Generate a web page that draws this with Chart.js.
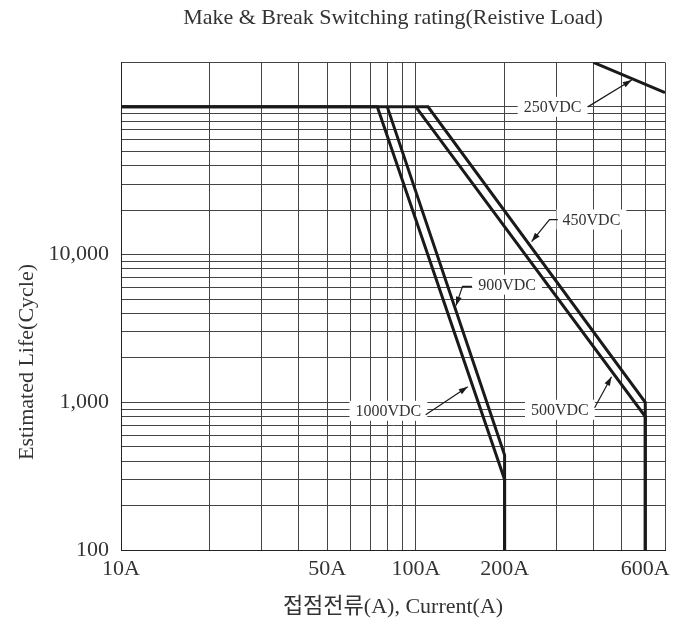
<!DOCTYPE html>
<html>
<head>
<meta charset="utf-8">
<script src="https://cdn.jsdelivr.net/npm/chart.js@4.4.1/dist/chart.umd.min.js"></script>
<style>
html,body{margin:0;padding:0;background:#fff;}
#wrap{width:675px;height:624px;}
</style>
</head>
<body>
<div id="wrap"><canvas id="c" width="675" height="624"></canvas></div>
<script>
// ---- data ----
const xGridValues = [10,20,30,40,50,60,70,80,90,100,200,300,400,500,600,700];
const xLabeledValues = [10,50,100,200,600];
const yGridValues = [100,200,300,400,500,600,700,800,900,
                     1000,2000,3000,4000,5000,6000,7000,8000,9000,
                     10000,20000,30000,40000,50000,60000,70000,80000,90000,
                     100000,200000];
const yLabeledValues = [100,1000,10000];

const seriesNames = ['1000VDC','900VDC','500VDC','450VDC','250VDC'];
const current1000 = [10, 74, 200, 200];
const life1000    = [100000, 100000, 300, 100];
const current900  = [80, 200, 200];
const life900     = [100000, 440, 100];
const current500  = [100, 600, 600];
const life500     = [100000, 800, 100];
const current450  = [10, 110, 600, 600];
const life450     = [100000, 100000, 1000, 100];
const current250  = [400, 700];
const life250     = [200000, 125000];

// callout labels: text, centre (current, life), leader path (current, life) ending in arrow
const calloutText   = ['250VDC','450VDC','900VDC','1000VDC','500VDC'];
const calloutCenter = [[291,100000],[394,17270],[204,6260],[80.7,875],[308,890]];
const calloutLeader = [
  [[383,100000],[540,152000]],
  [[303,17270],[284,17270],[247,12250]],
  [[155,6100],[144,6100],[136.8,4510]],
  [[108,823],[150,1274]],
  [[404,918],[461,1489]]
];

const titleText  = 'Make & Break Switching rating(Reistive Load)';
const xTitleText = '접점전류(A), Current(A)';
const yTitleText = 'Estimated Life(Cycle)';

// ---- styling ----
const FONT = "'Liberation Serif', 'Noto Sans CJK KR', serif";
const TEXT_COLOR = '#333';
const LINE_COLOR = '#1a1a1a';
const GRID_COLOR = '#444';
const LABEL_FONT = "16px " + FONT;

function pts(xs, ys){ return xs.map((x,i)=>({x:x, y:ys[i]})); }

const seriesData = [
  pts(current1000, life1000),
  pts(current900, life900),
  pts(current500, life500),
  pts(current450, life450),
  pts(current250, life250)
];

const calloutPlugin = {
  id: 'callouts',
  beforeDatasetsDraw(chart){
    const ctx = chart.ctx;
    const xs = chart.scales.x, ys = chart.scales.y;
    ctx.save();
    ctx.font = LABEL_FONT;
    calloutText.forEach((t,i)=>{
      const cx = xs.getPixelForValue(calloutCenter[i][0]);
      const cy = ys.getPixelForValue(calloutCenter[i][1]);
      const w = ctx.measureText(t).width;
      ctx.fillStyle = '#fff';
      ctx.fillRect(cx - w/2 - 6, cy - 10, w + 12, 20);
    });
    ctx.restore();
  },
  afterDatasetsDraw(chart){
    const ctx = chart.ctx;
    const xs = chart.scales.x, ys = chart.scales.y;
    ctx.save();
    ctx.font = LABEL_FONT;
    ctx.textAlign = 'center';
    ctx.textBaseline = 'middle';
    calloutText.forEach((t,i)=>{
      const cx = xs.getPixelForValue(calloutCenter[i][0]);
      const cy = ys.getPixelForValue(calloutCenter[i][1]);
      ctx.fillStyle = TEXT_COLOR;
      ctx.fillText(t, cx, cy + 1);
      // leader
      const p = calloutLeader[i].map(q=>[xs.getPixelForValue(q[0]), ys.getPixelForValue(q[1])]);
      ctx.strokeStyle = LINE_COLOR;
      ctx.lineWidth = 1.2;
      ctx.beginPath();
      ctx.moveTo(p[0][0], p[0][1]);
      for (let k=1;k<p.length;k++) ctx.lineTo(p[k][0], p[k][1]);
      ctx.stroke();
      // arrow head
      const a = p[p.length-2], b = p[p.length-1];
      const ang = Math.atan2(b[1]-a[1], b[0]-a[0]);
      const L = 9, W = 3;
      ctx.fillStyle = LINE_COLOR;
      ctx.beginPath();
      ctx.moveTo(b[0], b[1]);
      ctx.lineTo(b[0] - L*Math.cos(ang) + W*Math.sin(ang), b[1] - L*Math.sin(ang) - W*Math.cos(ang));
      ctx.lineTo(b[0] - L*Math.cos(ang) - W*Math.sin(ang), b[1] - L*Math.sin(ang) + W*Math.cos(ang));
      ctx.closePath();
      ctx.fill();
    });
    // y axis title (sits below axis centre in the original)
    ctx.save();
    ctx.translate(27, 362);
    ctx.rotate(-Math.PI/2);
    ctx.font = "22px " + FONT;
    ctx.fillStyle = TEXT_COLOR;
    ctx.textAlign = 'center';
    ctx.textBaseline = 'middle';
    ctx.fillText(yTitleText, 0, 0);
    ctx.restore();
    ctx.restore();
  }
};

new Chart(document.getElementById('c'), {
  type: 'line',
  data: {
    datasets: seriesData.map((d,i)=>({
      label: seriesNames[i],
      data: d,
      borderColor: LINE_COLOR,
      backgroundColor: LINE_COLOR,
      borderWidth: 3,
      pointRadius: 0,
      tension: 0,
      fill: false,
      borderJoinStyle: 'miter'
    }))
  },
  options: {
    responsive: false,
    animation: false,
    devicePixelRatio: 1,
    layout: { padding: { left: 0, right: 10, top: 0, bottom: 0 } },
    plugins: {
      legend: { display: false },
      tooltip: { enabled: false },
      title: {
        display: true,
        fullSize: false,
        text: titleText,
        color: TEXT_COLOR,
        font: { family: FONT, size: 22, weight: 'normal' },
        padding: { top: 5, bottom: 31 }
      }
    },
    scales: {
      x: {
        type: 'logarithmic',
        min: 10, max: 700,
        afterBuildTicks: s => { s.ticks = xGridValues.map(v=>({value:v})); },
        afterFit: s => { s.height = 74; },
        ticks: {
          autoSkip: false, maxRotation: 0, minRotation: 0,
          padding: 6,
          color: TEXT_COLOR,
          font: { family: FONT, size: 22 },
          callback: v => xLabeledValues.includes(v) ? v + 'A' : ''
        },
        grid: { color: GRID_COLOR, lineWidth: 1, drawTicks: false },
        border: { color: '#222', width: 1 },
        title: {
          display: true,
          text: xTitleText,
          color: TEXT_COLOR,
          font: { family: FONT, size: 22 },
          padding: { top: 0, bottom: 4 }
        }
      },
      y: {
        type: 'logarithmic',
        min: 100, max: 200000,
        afterBuildTicks: s => { s.ticks = yGridValues.map(v=>({value:v})); },
        afterFit: s => { s.width = 121; },
        ticks: {
          autoSkip: false,
          padding: 12,
          color: TEXT_COLOR,
          font: { family: FONT, size: 22 },
          callback: v => yLabeledValues.includes(v) ? v.toLocaleString('en-US') : ''
        },
        grid: { color: GRID_COLOR, lineWidth: 1, drawTicks: false },
        border: { color: '#222', width: 1 }
      }
    }
  },
  plugins: [calloutPlugin]
});
</script>
</body>
</html>
